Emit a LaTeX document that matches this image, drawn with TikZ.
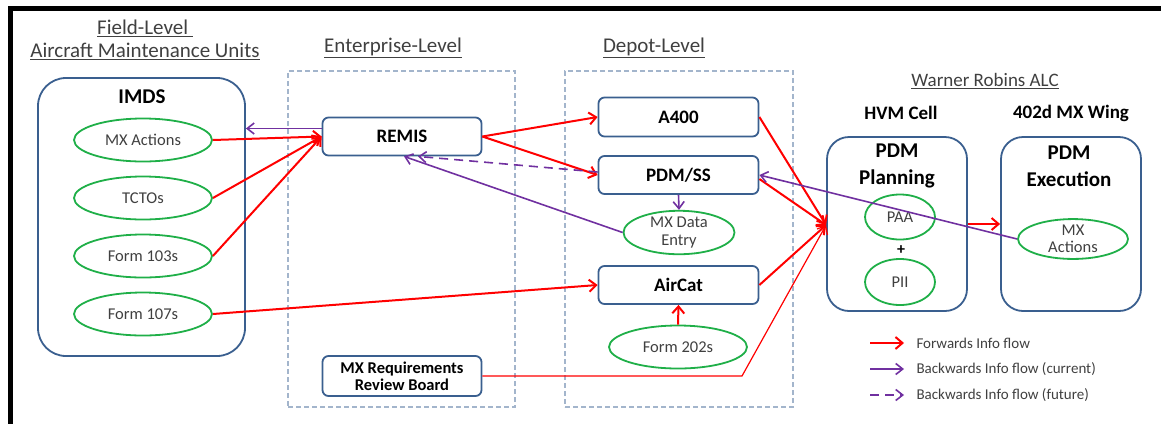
\documentclass[tikz,border=0pt]{standalone}
\usepackage{fontspec}
\setmainfont{Carlito}
\usetikzlibrary{arrows.meta,shapes.geometric,calc}
\definecolor{boxblue}{HTML}{3A5F8F}
\definecolor{ovgreen}{HTML}{1FAF48}
\definecolor{fwdred}{HTML}{FF0000}
\definecolor{backpurple}{HTML}{7030A0}
\definecolor{zoneblue}{HTML}{A3B5CC}
\definecolor{txtgray}{HTML}{404040}
\newcommand{\fs}[2]{\fontsize{#1}{#2}\selectfont}
\tikzset{
  bigbox/.style={draw=boxblue,line width=1.8pt,rounded corners=24pt,inner sep=0pt},
  sysbox/.style={draw=boxblue,line width=1.8pt,rounded corners=6pt,inner sep=0pt,
    minimum width=159pt,align=center,font=\bfseries\fs{19}{21}},
  itemov/.style={ellipse,draw=ovgreen,line width=1.8pt,inner sep=0pt,
    text=txtgray,font=\fs{16.5}{17.5},align=center},
  zone/.style={draw=zoneblue,line width=1.2pt,dash pattern=on 5pt off 3pt},
  title/.style={text=txtgray,font=\fs{21}{24},align=center},
  unit/.style={font=\bfseries\fs{19}{21}},
  fwd/.style={draw=fwdred,line width=2pt,-{Straight Barb[length=7pt,width=12pt]}},
  back/.style={draw=backpurple,line width=1.6pt,-{Straight Barb[length=7pt,width=11pt]}},
  backfut/.style={back,dash pattern=on 9pt off 6pt},
  legtext/.style={anchor=west,text=txtgray,font=\fs{15}{17}}
}
\begin{document}
\begin{tikzpicture}[x=1pt,y=-1pt]
\useasboundingbox (0,0) rectangle (1161,424);
% frame edges
\fill[black] (8,6) rectangle (1161,10.5);
\fill[black] (8,6) rectangle (12.5,424);

% level titles
\node[title] (tfield) at (145,40) {\underline{Field-Level\ }\\[-1pt]\underline{Aircraft Maintenance Units}};
\node[title] (tent) at (393,48) {\underline{Enterprise-Level}};
\node[title] (tdep) at (654,48) {\underline{Depot-Level}};
\node[title,font=\fs{19}{21}] (twr) at (985,81) {\underline{Warner Robins ALC}};
\node[unit] (thvm) at (901,113) {HVM Cell};
\node[unit] (t402) at (1071,113) {402d MX Wing};

% dashed zones
\node[zone,minimum width=227pt,minimum height=336pt,inner sep=0pt] (zent) at (401.5,239) {};
\node[zone,minimum width=228pt,minimum height=336pt,inner sep=0pt] (zdep) at (679,239) {};

% IMDS
\node[bigbox,minimum width=207pt,minimum height=278pt,rounded corners=28pt] (imds) at (141.5,217) {};
\node[font=\bfseries\fs{21}{23}] (imdslbl) at (142,97) {IMDS};
\node[itemov,minimum width=138pt,minimum height=43pt] (mxa) at (143,140) {MX Actions};
\node[itemov,minimum width=138pt,minimum height=43pt] (tcto) at (143,198) {TCTOs};
\node[itemov,minimum width=138pt,minimum height=43pt] (f103) at (143,256) {Form 103s};
\node[itemov,minimum width=138pt,minimum height=43pt] (f107) at (143,314) {Form 107s};

% enterprise level
\node[sysbox,minimum height=38pt] (remis) at (402,136.5) {REMIS};
\node[sysbox,minimum height=40pt,font=\bfseries\fs{16.5}{17}] (mxrrb) at (402,376) {MX Requirements\\Review Board};

% depot level
\node[sysbox,minimum width=160pt,minimum height=39pt] (a400) at (678.5,117) {A400};
\node[sysbox,minimum width=160pt,minimum height=38pt] (pdmss) at (678.5,175) {PDM/SS};
\node[itemov,minimum width=111pt,minimum height=37pt] (mxde) at (679,232.5) {MX Data\\Entry};
\node[sysbox,minimum width=160pt,minimum height=38pt] (aircat) at (678.5,285) {AirCat};
\node[itemov,minimum width=138pt,minimum height=43pt] (f202) at (678,347) {Form 202s};

% Warner Robins ALC
\node[bigbox,minimum width=140pt,minimum height=174pt,rounded corners=22pt] (plan) at (897,224) {};
\node[font=\bfseries\fs{21}{27},align=center] (planlbl) at (897,166) {PDM\\Planning};
\node[itemov,minimum width=70pt,minimum height=45pt] (paa) at (900,217) {PAA};
\node[font=\bfseries\fs{16}{18}] (plus) at (901,250) {+};
\node[itemov,minimum width=70pt,minimum height=46pt] (pii) at (900,282) {PII};
\node[bigbox,minimum width=140pt,minimum height=174pt,rounded corners=22pt] (exec) at (1071,224) {};
\node[font=\bfseries\fs{21}{27},align=center] (execlbl) at (1069,166) {PDM\\Execution};
\node[itemov,minimum width=110pt,minimum height=38pt] (mxa2) at (1073,239) {MX\\Actions};

% anchor points where several flows meet
\coordinate (remisbk) at ($(remis.west)+(0,-8)$);
\coordinate (imdsbk) at (imds.east |- remisbk);
\coordinate (remisbot1) at ($(remis.south)+(2,0)$);
\coordinate (remisbot2) at ($(remis.south)+(16,0)$);
\coordinate (planin) at ($(plan.west)+(0,1)$);
\coordinate (pdmssout) at ($(pdmss.east)+(0,4)$);
\coordinate (pdmssfut) at ($(pdmss.west)+(0,-3)$);
\coordinate (boardbend) at (742,376);

% forward flows
\draw[fwd] (mxa.east) -- (remis.west);
\draw[fwd] (tcto.east) -- (remis.west);
\draw[fwd] (f103.east) -- (remis.west);
\draw[fwd] (f107.east) -- (aircat.west);
\draw[fwd] (remis.east) -- (a400.west);
\draw[fwd] (remis.east) -- (pdmss.west);
\draw[fwd] (f202.north) -- (aircat.south);
\draw[fwd] (a400.east) -- (planin);
\draw[fwd] (pdmssout) -- (planin);
\draw[fwd] (aircat.east) -- (planin);
\draw[fwd,line width=1.2pt] (mxrrb.east) -- (boardbend) -- (planin);
\draw[fwd] (plan.east) -- (exec.west);

% backward flows
\draw[back] (remisbk) -- (imdsbk);
\draw[back] (pdmss.south) -- (mxde.north);
\draw[back] (mxde.west) -- (remisbot1);
\draw[backfut] (pdmssfut) -- (remisbot2);
\draw[back] (mxa2.west) -- (pdmss.east);

% legend
\coordinate (l1a) at (870,343); \coordinate (l1b) at (904,343);
\coordinate (l2a) at (870,369); \coordinate (l2b) at (904,369);
\coordinate (l3a) at (870,395); \coordinate (l3b) at (904,395);
\draw[fwd] (l1a) -- (l1b);
\draw[back] (l2a) -- (l2b);
\draw[backfut] (l3a) -- (l3b);
\node[legtext] (lg1) at (913,343) {Forwards Info flow};
\node[legtext] (lg2) at (913,369) {Backwards Info flow (current)};
\node[legtext] (lg3) at (913,395) {Backwards Info flow (future)};
\end{tikzpicture}
\end{document}
